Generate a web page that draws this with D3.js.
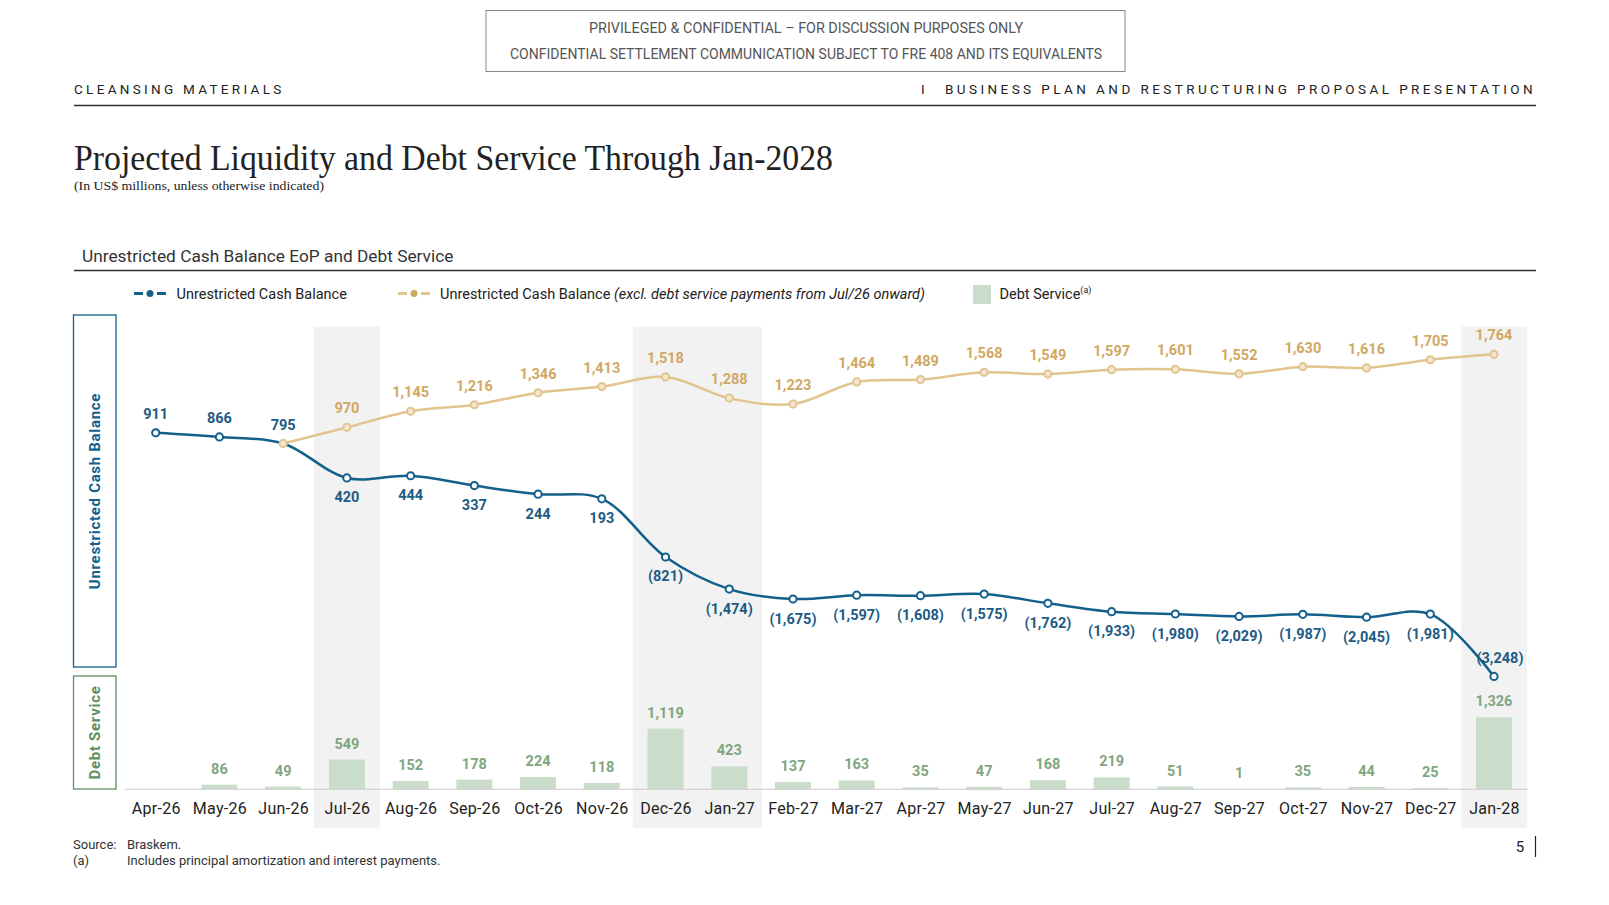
<!DOCTYPE html>
<html>
<head>
<meta charset="utf-8">
<script src="https://cdn.jsdelivr.net/npm/d3@7"></script>
<style>
  html, body { margin: 0; padding: 0; background: #fff; }
  svg { display: block; }
</style>
</head>
<body>
<svg id="chart" width="1609" height="905" font-family="Roboto, 'Noto Sans', sans-serif"></svg>
<script>
// ---------------- DATA ----------------
const months = ["Apr-26","May-26","Jun-26","Jul-26","Aug-26","Sep-26","Oct-26","Nov-26","Dec-26","Jan-27",
  "Feb-27","Mar-27","Apr-27","May-27","Jun-27","Jul-27","Aug-27","Sep-27","Oct-27","Nov-27","Dec-27","Jan-28"];
const cashBalance = [911, 866, 795, 420, 444, 337, 244, 193, -821, -1474,
  -1675, -1597, -1608, -1575, -1762, -1933, -1980, -2029, -1987, -2045, -1981, -3248];
const cashExclDebt = [null, null, 795, 970, 1145, 1216, 1346, 1413, 1518, 1288,
  1223, 1464, 1489, 1568, 1549, 1597, 1601, 1552, 1630, 1616, 1705, 1764];
const debtService = [null, 86, 49, 549, 152, 178, 224, 118, 1119, 423,
  137, 163, 35, 47, 168, 219, 51, 1, 35, 44, 25, 1326];
const highlighted = ["Jul-26", "Dec-26", "Jan-27", "Jan-28"];

// ---------------- STYLE ----------------
const C = {
  blue: "#12608b", blueText: "#1d5b85",
  tan: "#e2c48f", tanText: "#d0a862", tanFill: "#f4e7cf",
  green: "#cadcca", greenText: "#7fa77f", greenBorder: "#5f8f60",
  band: "#f2f2f2", dark: "#222", grey: "#555"
};
const SERIF = "'Liberation Serif', 'DejaVu Serif', serif";

const svg = d3.select("#chart");
const fmt = v => v < 0 ? "(" + d3.format(",")(-v) + ")" : d3.format(",")(v);

// ---------------- HEADER ----------------
svg.append("rect").attr("x", 486).attr("y", 10.5).attr("width", 639).attr("height", 61)
  .attr("fill", "none").attr("stroke", "#8a8a8a").attr("stroke-width", 1);
svg.append("text").attr("x", 806).attr("y", 33).attr("text-anchor", "middle")
  .attr("font-size", 14).attr("fill", C.grey)
  .attr("textLength", 434).attr("lengthAdjust", "spacingAndGlyphs")
  .text("PRIVILEGED & CONFIDENTIAL – FOR DISCUSSION PURPOSES ONLY");
svg.append("text").attr("x", 806).attr("y", 58.5).attr("text-anchor", "middle")
  .attr("font-size", 14).attr("fill", C.grey)
  .attr("textLength", 592).attr("lengthAdjust", "spacingAndGlyphs")
  .text("CONFIDENTIAL SETTLEMENT COMMUNICATION SUBJECT TO FRE 408 AND ITS EQUIVALENTS");

svg.append("text").attr("x", 74).attr("y", 94).attr("font-size", 13.5).attr("fill", C.dark)
  .attr("letter-spacing", 3.3).text("CLEANSING MATERIALS");
svg.append("text").attr("x", 921).attr("y", 94).attr("font-size", 13.5).attr("fill", C.dark)
  .text("I");
svg.append("text").attr("x", 1536).attr("y", 94).attr("font-size", 13.5).attr("fill", C.dark)
  .attr("text-anchor", "end").attr("letter-spacing", 3.42)
  .text("BUSINESS PLAN AND RESTRUCTURING PROPOSAL PRESENTATION");
svg.append("line").attr("x1", 74).attr("x2", 1536).attr("y1", 105.5).attr("y2", 105.5)
  .attr("stroke", "#333").attr("stroke-width", 1.3);

svg.append("text").attr("x", 74).attr("y", 169.5)
  .attr("font-family", SERIF)
  .attr("font-size", 35).attr("fill", C.dark)
  .attr("textLength", 759).attr("lengthAdjust", "spacingAndGlyphs")
  .text("Projected Liquidity and Debt Service Through Jan-2028");
svg.append("text").attr("x", 74).attr("y", 190)
  .attr("font-family", SERIF)
  .attr("font-size", 13.5).attr("fill", C.dark)
  .attr("textLength", 250).attr("lengthAdjust", "spacingAndGlyphs")
  .text("(In US$ millions, unless otherwise indicated)");

svg.append("text").attr("x", 82).attr("y", 261.5).attr("font-size", 17.3).attr("fill", "#333")
  .text("Unrestricted Cash Balance EoP and Debt Service");
svg.append("line").attr("x1", 74).attr("x2", 1536).attr("y1", 270.5).attr("y2", 270.5)
  .attr("stroke", "#333").attr("stroke-width", 1.3);

// ---------------- LEGEND ----------------
function legendLine(x0, color, fill) {
  const g = svg.append("g");
  g.append("line").attr("x1", x0).attr("x2", x0 + 9).attr("y1", 293.5).attr("y2", 293.5)
    .attr("stroke", color).attr("stroke-width", 3);
  g.append("line").attr("x1", x0 + 23).attr("x2", x0 + 32).attr("y1", 293.5).attr("y2", 293.5)
    .attr("stroke", color).attr("stroke-width", 3);
  g.append("circle").attr("cx", x0 + 16).attr("cy", 293.5).attr("r", 3.5).attr("fill", fill);
}
legendLine(134, C.blue, C.blue);
svg.append("text").attr("x", 176.5).attr("y", 299).attr("font-size", 14.5).attr("fill", C.dark)
  .text("Unrestricted Cash Balance");
legendLine(398, C.tan, C.tanText);
const lt = svg.append("text").attr("x", 440).attr("y", 299).attr("font-size", 14.5).attr("fill", C.dark);
lt.append("tspan").text("Unrestricted Cash Balance ");
lt.append("tspan").attr("font-style", "italic").text("(excl. debt service payments from Jul/26 onward)");
svg.append("rect").attr("x", 973).attr("y", 285).attr("width", 18).attr("height", 19).attr("fill", C.green);
const dt = svg.append("text").attr("x", 999.5).attr("y", 299).attr("font-size", 14.5).attr("fill", C.dark);
dt.append("tspan").text("Debt Service");
dt.append("tspan").attr("font-size", 9).attr("dy", -6).text("(a)");

// ---------------- SCALES ----------------
const x = d3.scalePoint().domain(months).range([155.7, 1494]);
const step = x.step();
// Cash balance axis: negative side drawn at half the scale of the positive side
const y = d3.scaleLinear().domain([-4000, 0, 2000]).range([713.4, 516.6, 332.6]);
const yBar = d3.scaleLinear().domain([0, 1000]).range([789.3, 735.1]);

// ---------------- HIGHLIGHT BANDS ----------------
svg.append("g").selectAll("rect").data(highlighted).join("rect")
  .attr("x", d => x(d) - step / 2 - 1)
  .attr("width", step + 2)
  .attr("y", 326.7).attr("height", 828.3 - 326.7)
  .attr("fill", C.band);

// ---------------- SIDE BOXES ----------------
svg.append("rect").attr("x", 73.5).attr("y", 315).attr("width", 42.5).attr("height", 352)
  .attr("fill", "none").attr("stroke", C.blue).attr("stroke-width", 1.3);
svg.append("text").attr("transform", "translate(99.5,491) rotate(-90)")
  .attr("text-anchor", "middle").attr("font-size", 15).attr("font-weight", 700)
  .attr("letter-spacing", 0.7)
  .attr("fill", C.blue).text("Unrestricted Cash Balance");
svg.append("rect").attr("x", 73.5).attr("y", 676).attr("width", 42.5).attr("height", 113)
  .attr("fill", "none").attr("stroke", C.greenBorder).attr("stroke-width", 1.3);
svg.append("text").attr("transform", "translate(99.5,732.5) rotate(-90)")
  .attr("text-anchor", "middle").attr("font-size", 15).attr("font-weight", 700)
  .attr("letter-spacing", 0.7)
  .attr("fill", C.greenBorder).text("Debt Service");

// ---------------- BARS ----------------
const barData = months.map((m, i) => ({ m, v: debtService[i] })).filter(d => d.v != null);
svg.append("g").selectAll("rect").data(barData).join("rect")
  .attr("x", d => x(d.m) - 18).attr("width", 36)
  .attr("y", d => yBar(d.v)).attr("height", d => yBar(0) - yBar(d.v))
  .attr("fill", C.green);
svg.append("g").selectAll("text").data(barData).join("text")
  .attr("x", d => x(d.m)).attr("y", d => yBar(d.v) - 11)
  .attr("text-anchor", "middle").attr("font-size", 14.5).attr("font-weight", 700)
  .attr("fill", C.greenText).text(d => fmt(d.v));

// ---------------- X AXIS ----------------
svg.append("line").attr("x1", 125).attr("x2", 1527.7).attr("y1", 789.3).attr("y2", 789.3)
  .attr("stroke", "#d4d4d4").attr("stroke-width", 1.2);
const xAxis = svg.append("g").attr("transform", "translate(0,789.3)")
  .call(d3.axisBottom(x).tickSize(0).tickPadding(13.5));
xAxis.select(".domain").remove();
xAxis.selectAll("text").attr("font-size", 16).attr("fill", C.dark)
  .attr("letter-spacing", 0.3)
  .attr("font-family", "Roboto, 'Noto Sans', sans-serif");

// ---------------- LINES ----------------
const tanData = months.map((m, i) => ({ m, v: cashExclDebt[i], i })).filter(d => d.v != null);
const blueData = months.map((m, i) => ({ m, v: cashBalance[i], i }));
const line = d3.line().x(d => x(d.m)).y(d => y(d.v)).curve(d3.curveCatmullRom.alpha(0.5));

svg.append("path").datum(tanData).attr("d", line)
  .attr("fill", "none").attr("stroke", C.tan).attr("stroke-width", 2.5);
svg.append("path").datum(blueData).attr("d", line)
  .attr("fill", "none").attr("stroke", C.blue).attr("stroke-width", 2.5);

svg.append("g").selectAll("circle").data(blueData.filter(d => d.m !== "Jun-26")).join("circle")
  .attr("cx", d => x(d.m)).attr("cy", d => y(d.v)).attr("r", 3.6)
  .attr("fill", "#fff").attr("stroke", C.blue).attr("stroke-width", 2);
svg.append("g").selectAll("circle").data(tanData).join("circle")
  .attr("cx", d => x(d.m)).attr("cy", d => y(d.v)).attr("r", 3.6)
  .attr("fill", C.tanFill).attr("stroke", C.tan).attr("stroke-width", 2);

// labels
const last = months.length - 1;
svg.append("g").selectAll("text").data(blueData).join("text")
  .attr("x", d => x(d.m) + (d.i === last ? 6 : 0))
  .attr("y", d => (d.i < 3 || d.i === last) ? y(d.v) - 13.5 : y(d.v) + 24.5)
  .attr("text-anchor", "middle").attr("font-size", 14.5).attr("font-weight", 700)
  .attr("fill", C.blueText).text(d => fmt(d.v));
svg.append("g").selectAll("text").data(tanData.filter(d => d.m !== "Jun-26")).join("text")
  .attr("x", d => x(d.m)).attr("y", d => y(d.v) - 14)
  .attr("text-anchor", "middle").attr("font-size", 14.5).attr("font-weight", 700)
  .attr("fill", C.tanText).text(d => fmt(d.v));

// ---------------- FOOTNOTES ----------------
svg.append("text").attr("x", 73).attr("y", 849).attr("font-size", 13).attr("fill", "#333").text("Source:");
svg.append("text").attr("x", 127).attr("y", 849).attr("font-size", 13).attr("fill", "#333").text("Braskem.");
svg.append("text").attr("x", 73).attr("y", 865).attr("font-size", 13).attr("fill", "#333").text("(a)");
svg.append("text").attr("x", 127).attr("y", 865).attr("font-size", 13).attr("fill", "#333")
  .text("Includes principal amortization and interest payments.");
svg.append("text").attr("x", 1520).attr("y", 851.5).attr("text-anchor", "middle")
  .attr("font-size", 15).attr("fill", C.dark).text("5");
svg.append("line").attr("x1", 1535.5).attr("x2", 1535.5).attr("y1", 836).attr("y2", 857)
  .attr("stroke", C.dark).attr("stroke-width", 1.2);
</script>
</body>
</html>
